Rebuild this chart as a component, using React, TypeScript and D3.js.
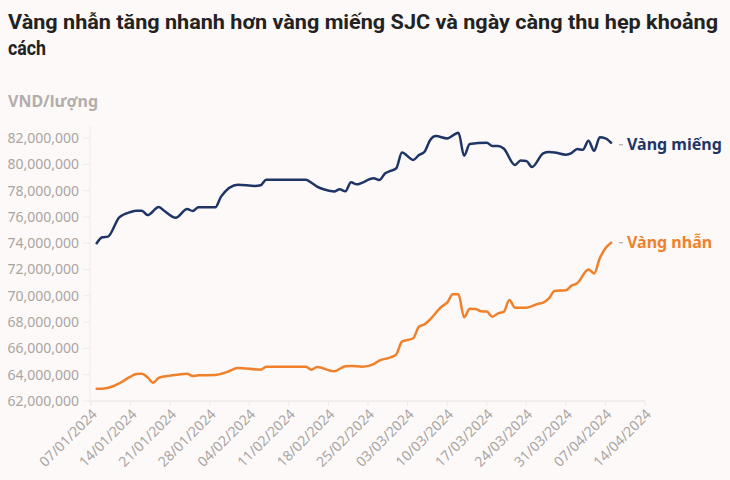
import * as d3 from "d3";

const W = 730, H = 480;

const title1 = "Vàng nhẫn tăng nhanh hơn vàng miếng SJC và ngày càng thu hẹp khoảng";
const title2 = "cách";
const unitLabel = "VND/lượng";

const yTicks = [62, 64, 66, 68, 70, 72, 74, 76, 78, 80, 82];
const xTickLabels = [
  "07/01/2024", "14/01/2024", "21/01/2024", "28/01/2024", "04/02/2024",
  "11/02/2024", "18/02/2024", "25/02/2024", "03/03/2024", "10/03/2024",
  "17/03/2024", "24/03/2024", "31/03/2024", "07/04/2024", "14/04/2024",
];

// Vàng miếng SJC, triệu VND/lượng
const miengDates = [
  "08/01", "09/01", "10/01", "12/01", "14/01", "15/01", "16/01", "17/01", "19/01", "20/01",
  "22/01", "24/01", "25/01", "26/01", "29/01", "30/01", "02/02", "05/02", "06/02", "07/02",
  "14/02", "15/02", "16/02", "17/02", "19/02", "20/02", "21/02", "22/02", "23/02", "26/02",
  "27/02", "28/02", "29/02", "01/03", "02/03", "04/03", "05/03", "06/03", "07/03", "08/03",
  "10/03", "12/03", "13/03", "14/03", "17/03", "18/03", "19/03", "20/03", "22/03", "23/03",
  "24/03", "25/03", "27/03", "28/03", "29/03", "31/03", "01/04", "02/04", "03/04", "04/04",
  "05/04", "06/04", "07/04", "08/04",
];
const miengValues = [
  74.0, 74.45, 74.5, 75.97, 76.37, 76.47, 76.47, 76.14, 76.75, 76.45,
  75.94, 76.6, 76.45, 76.73, 76.73, 77.54, 78.45, 78.35, 78.4, 78.83,
  78.83, 78.6, 78.3, 78.12, 77.94, 78.1, 77.95, 78.63, 78.48, 78.93,
  78.8, 79.3, 79.5, 79.7, 80.9, 80.33, 80.7, 80.96, 81.85, 82.15,
  81.97, 82.4, 80.65, 81.54, 81.64, 81.39, 81.39, 81.2, 79.95, 80.28,
  80.25, 79.8, 80.83, 80.93, 80.9, 80.73, 80.85, 81.16, 81.1, 81.8,
  81.03, 82.05, 81.97, 81.64,
];

// Vàng nhẫn, triệu VND/lượng
const nhanDates = [
  "08/01", "09/01", "11/01", "12/01", "14/01", "15/01", "16/01", "17/01", "18/01", "19/01",
  "21/01", "24/01", "25/01", "26/01", "29/01", "31/01", "02/02", "06/02", "07/02", "14/02",
  "15/02", "16/02", "19/02", "21/02", "22/02", "24/02", "26/02", "27/02", "29/02", "01/03",
  "02/03", "04/03", "05/03", "06/03", "07/03", "09/03", "10/03", "11/03", "12/03", "13/03",
  "14/03", "15/03", "16/03", "17/03", "18/03", "19/03", "20/03", "21/03", "22/03", "24/03",
  "26/03", "27/03", "28/03", "29/03", "31/03", "01/04", "02/04", "04/04", "05/04", "06/04",
  "07/04", "08/04",
];
const nhanValues = [
  62.94, 62.94, 63.14, 63.35, 63.85, 64.05, 64.08, 63.8, 63.39, 63.77,
  63.93, 64.08, 63.9, 63.95, 63.98, 64.2, 64.51, 64.38, 64.61, 64.61,
  64.38, 64.59, 64.26, 64.64, 64.66, 64.61, 64.81, 65.07, 65.32, 65.55,
  66.51, 66.77, 67.65, 67.83, 68.21, 69.17, 69.48, 70.11, 70.11, 68.36,
  69.02, 69.0, 68.82, 68.8, 68.41, 68.67, 68.77, 69.68, 69.1, 69.1,
  69.38, 69.48, 69.8, 70.37, 70.42, 70.77, 70.95, 72.0, 71.7, 72.85,
  73.61, 74.04,
];

const seriesNames = ["Vàng miếng", "Vàng nhẫn"];
const seriesColors = ["#1f3566", "#f0802a"];

const parse = d3.timeParse("%d/%m/%Y");
const toPoints = (dates: string[], vals: number[]) =>
  dates.map((d, i) => ({ date: parse(d + "/2024")!, value: vals[i] }));

const series = [toPoints(miengDates, miengValues), toPoints(nhanDates, nhanValues)];

const m = { left: 91, right: 645, top: 138, bottom: 401 };

export default function App() {
  const x = d3.scaleTime()
    .domain([parse("07/01/2024")!, parse("14/04/2024")!])
    .range([m.left, m.right]);
  const y = d3.scaleLinear().domain([62, 82]).range([m.bottom, m.top]);
  const line = d3.line<{ date: Date; value: number }>()
    .x(d => x(d.date))
    .y(d => y(d.value))
    .curve(d3.curveMonotoneX);
  const fmt = d3.format(",");
  const font = "'Source Sans Pro', 'Noto Sans', 'Open Sans', sans-serif";
  const titleFont = "Roboto, 'Noto Sans', sans-serif";

  return (
    <svg width={W} height={H} style={{ position: "absolute", left: 0, top: 0, background: "#fcf9f8" }}
      fontFamily={font}>
      <rect width={W} height={H} fill="#fcf9f8" />
      <text x={8} y={29} fontFamily={titleFont} fontSize={20} fontWeight={700} fill="#222"
        textLength={710} lengthAdjust="spacingAndGlyphs">{title1}</text>
      <text x={8} y={55} fontFamily={titleFont} fontSize={20} fontWeight={700} fill="#222"
        textLength={38} lengthAdjust="spacingAndGlyphs">{title2}</text>
      <text x={8} y={107} fontSize={16} fontWeight={700} fill="#b3aeac"
        textLength={90} lengthAdjust="spacingAndGlyphs">{unitLabel}</text>

      {/* y axis */}
      <line x1={m.left - 1} x2={m.left - 1} y1={m.top - 12} y2={m.bottom + 4} stroke="#eeeae8" />
      {yTicks.map(t => (
        <g key={t}>
          <line x1={m.left - 8} x2={m.left - 1} y1={y(t)} y2={y(t)} stroke="#eeeae8" />
          <text x={79} y={y(t)} dy="0.35em" textAnchor="end" fontSize={14} fill="#aaa5a3">
            {fmt(t * 1e6)}
          </text>
        </g>
      ))}

      {/* x axis */}
      <line x1={m.left - 1} x2={m.right} y1={m.bottom} y2={m.bottom} stroke="#eeeae8" strokeWidth={1.5} />
      {xTickLabels.map(l => {
        const tx = x(parse(l)!);
        return (
          <g key={l}>
            <line x1={tx} x2={tx} y1={m.bottom} y2={m.bottom + 5} stroke="#eeeae8" />
            <text transform={`translate(${tx + 7},${m.bottom + 14}) rotate(-45)`}
              textAnchor="end" fontSize={14} fill="#aaa5a3">{l}</text>
          </g>
        );
      })}

      {/* lines */}
      {series.map((s, i) => (
        <path key={i} d={line(s)!} fill="none" stroke={seriesColors[i]} strokeWidth={2.5}
          strokeLinejoin="round" strokeLinecap="round" />
      ))}

      {/* labels */}
      {series.map((s, i) => {
        const last = s[s.length - 1];
        const ly = y(last.value) + (i === 0 ? 2 : 0);
        return (
          <g key={i}>
            <line x1={619} x2={623} y1={ly} y2={ly} stroke="#b3aeac" strokeWidth={1.2} />
            <text x={627} y={ly} dy="0.35em" fontSize={16} fontWeight={700} fill={seriesColors[i]}>
              {seriesNames[i]}
            </text>
          </g>
        );
      })}
    </svg>
  );
}
